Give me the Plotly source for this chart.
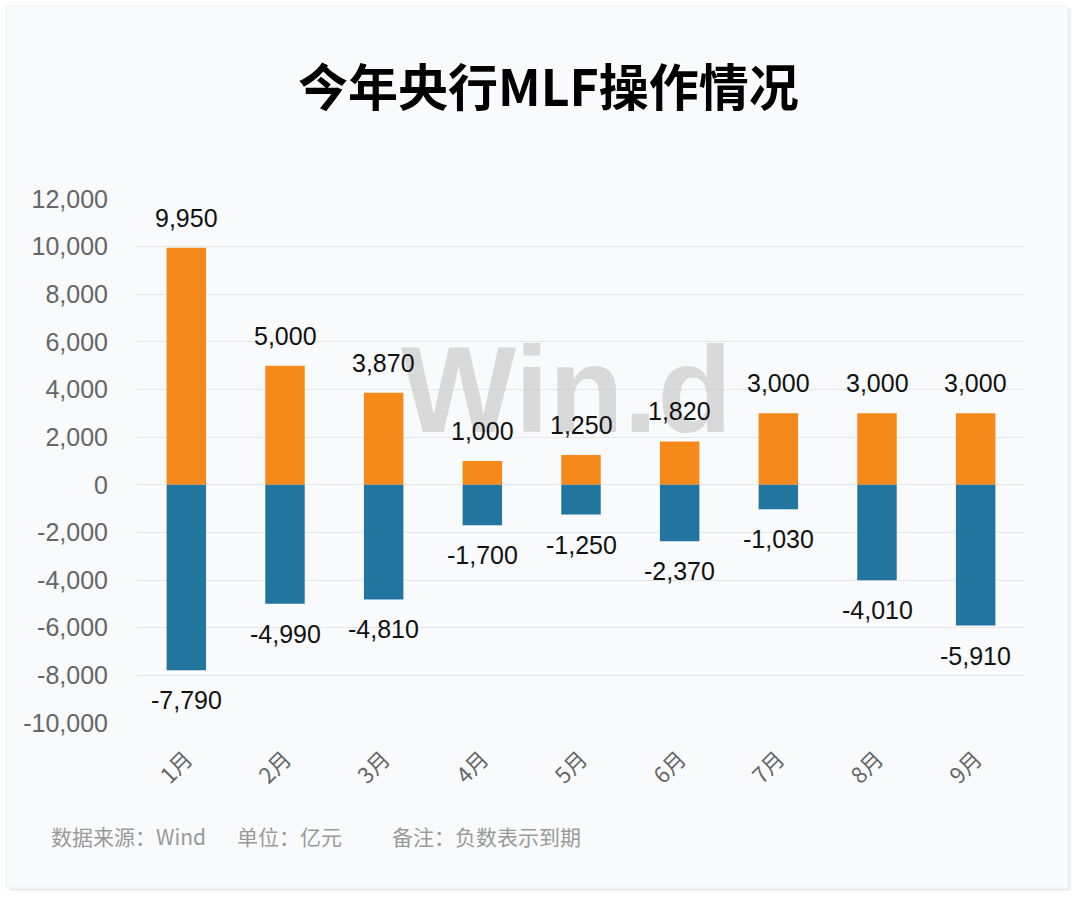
import plotly.graph_objects as go

months = ["1月", "2月", "3月", "4月", "5月", "6月", "7月", "8月", "9月"]
issued = [9950, 5000, 3870, 1000, 1250, 1820, 3000, 3000, 3000]
matured = [-7790, -4990, -4810, -1700, -1250, -2370, -1030, -4010, -5910]
y_ticks = list(range(-10000, 12001, 2000))
y_tick_text = [f"{v:,}" for v in y_ticks]

ORANGE = "#F58A1A"
BLUE = "#22759F"
num_font = "Liberation Sans, Arial, sans-serif"
cjk_font = "Noto Sans CJK SC, sans-serif"

fig = go.Figure()
fig.add_trace(go.Bar(
    x=months, y=issued, marker=dict(color=ORANGE, line=dict(width=0)),
    width=0.4, hoverinfo="x+y",
))
fig.add_trace(go.Bar(
    x=months, y=matured, marker=dict(color=BLUE, line=dict(width=0)),
    width=0.4, hoverinfo="x+y",
))

W, H = 1080, 899
L, R, T, B = 137, 55, 199, 176
pw, ph = W - L - R, H - T - B


def px(x):
    return (x - L) / pw


def py(y):
    return (H - B - y) / ph


annotations = [
    dict(text="<b>Win.d</b>", xref="paper", yref="paper",
         x=px(566), y=py(390), xanchor="center", yanchor="middle",
         showarrow=False, font=dict(family=num_font, size=122,
                                    color="rgba(200,200,200,0.65)")),
]
for m, v in zip(months, issued):
    annotations.append(dict(x=m, y=v, xref="x", yref="y", text=f"{v:,}",
                            showarrow=False, xanchor="center", yanchor="bottom", yshift=14,
                            font=dict(family=num_font, size=25, color="#111111")))
for m, v in zip(months, matured):
    annotations.append(dict(x=m, y=v, xref="x", yref="y", text=f"{v:,}",
                            showarrow=False, xanchor="center", yanchor="top", yshift=-14,
                            font=dict(family=num_font, size=25, color="#111111")))

annotations += [
    dict(text="<b>今年央行MLF操作情况</b>", xref="paper", yref="paper",
         x=px(548), y=py(84), xanchor="center", yanchor="middle",
         showarrow=False, font=dict(family=cjk_font, size=50, color="#000000")),
    dict(text="数据来源：Wind", xref="paper", yref="paper",
         x=px(49), y=py(836), xanchor="left", yanchor="middle",
         showarrow=False, font=dict(family=cjk_font, size=21, color="#9A9A9A")),
    dict(text="单位：亿元", xref="paper", yref="paper",
         x=px(235), y=py(836), xanchor="left", yanchor="middle",
         showarrow=False, font=dict(family=cjk_font, size=21, color="#9A9A9A")),
    dict(text="备注：负数表示到期", xref="paper", yref="paper",
         x=px(390), y=py(836), xanchor="left", yanchor="middle",
         showarrow=False, font=dict(family=cjk_font, size=21, color="#9A9A9A")),
]

fig.update_layout(
    width=W, height=H,
    barmode="overlay",
    showlegend=False,
    paper_bgcolor="#ffffff",
    plot_bgcolor="rgba(0,0,0,0)",
    margin=dict(l=L, r=R, t=T, b=B),
    shapes=[
        dict(type="rect", xref="paper", yref="paper", layer="below",
             x0=px(9), x1=px(1071), y0=py(891), y1=py(9),
             fillcolor="#EEEEEE", line=dict(width=0)),
        dict(type="rect", xref="paper", yref="paper", layer="below",
             x0=px(6), x1=px(1068), y0=py(888), y1=py(6),
             fillcolor="#F8FAFC", line=dict(color="#F0F0F0", width=1)),
    ],
    annotations=annotations,
)

fig.update_xaxes(
    tickangle=-45, showgrid=False, showline=False, ticks="",
    tickfont=dict(family=cjk_font, size=22, color="#666666"),
    ticklabelstandoff=18,
)
fig.update_yaxes(
    range=[-10000, 12000], tickvals=y_ticks, ticktext=y_tick_text,
    showgrid=True, gridcolor="#E6E6E6", gridwidth=1,
    zeroline=True, zerolinecolor="#E6E6E6", zerolinewidth=1,
    tickfont=dict(family=num_font, size=25, color="#666666"),
    ticks="", ticklabelstandoff=28,
)

fig.write_html("out.html", config={"displayModeBar": False},
               post_script="document.body.style.margin='0';document.body.style.padding='0';")
